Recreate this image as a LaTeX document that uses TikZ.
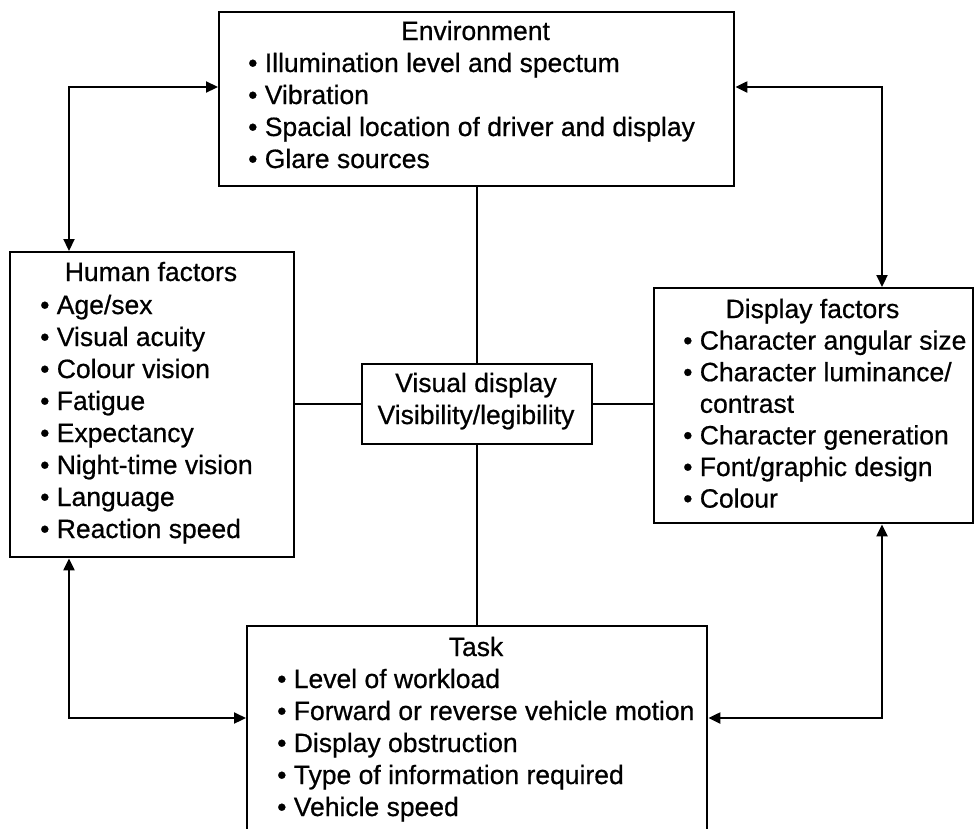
\documentclass[tikz,border=0pt]{standalone}
\usepackage{fontspec}
\setmainfont{Liberation Sans}[FakeBold=0.6]
\usetikzlibrary{arrows.meta}
\begin{document}
\begin{tikzpicture}[x=1pt,y=-1pt,
  box/.style={draw, line width=2.4pt, inner sep=0pt, anchor=north west},
  head/.style={anchor=base, inner sep=0pt, font=\fontsize{26.5}{32}\selectfont},
  item/.style={anchor=base west, inner sep=0pt, font=\fontsize{26.5}{32}\selectfont},
  link/.style={line width=1.6pt},
  twoway/.style={line width=2.2pt, {Triangle[length=12pt,width=11pt]}-{Triangle[length=12pt,width=11pt]}},
]
\useasboundingbox (0,0) rectangle (974,828);

% Environment
\node[box, minimum width=515pt, minimum height=174pt] (env) at (218,11) {};
\node[head] (env-t) at (475.5,40) {Environment};
\foreach \t [count=\i] in {Illumination level and spectum, Vibration,
    Spacial location of driver and display, Glare sources}
  \node[item] (env-\i) at (248, 40+32*\i) {\textbullet\ \t};

% Human factors
\node[box, minimum width=284pt, minimum height=305pt] (hum) at (9,251) {};
\node[head] (hum-t) at (151,281) {Human factors};
\foreach \t [count=\i] in {Age/sex, Visual acuity, Colour vision, Fatigue,
    Expectancy, Night-time vision, Language, Reaction speed}
  \node[item] (hum-\i) at (40, 282+32*\i) {\textbullet\ \t};

% Display factors
\node[box, minimum width=319pt, minimum height=235pt] (disp) at (653,287) {};
\node[head] (disp-t) at (812.5,318) {Display factors};
\foreach \t [count=\i] in {\textbullet\ Character angular size,
    \textbullet\ Character luminance/, \phantom{\textbullet\ }contrast,
    \textbullet\ Character generation, \textbullet\ Font/graphic design,
    \textbullet\ Colour}
  \node[item] (disp-\i) at (683, 318+31.6*\i) {\t};

% Visual display (centre)
\node[box, minimum width=230pt, minimum height=80pt] (ctr) at (361,363) {};
\node[head] (ctr-1) at (476,392) {Visual display};
\node[head] (ctr-2) at (476,424) {Visibility/legibility};

% Task
\node[box, minimum width=460pt, minimum height=220pt] (task) at (246,625) {};
\node[head] (task-t) at (476,656) {Task};
\foreach \t [count=\i] in {Level of workload, Forward or reverse vehicle motion,
    Display obstruction, Type of information required, Vehicle speed}
  \node[item] (task-\i) at (277, 656+32*\i) {\textbullet\ \t};

% plain links to the centre box
\draw[link] (env.south) -- (env.south |- ctr.north);
\draw[link] (ctr.south) -- (ctr.south |- task.north);
\draw[link] (hum.east |- ctr.west) -- (ctr.west);
\draw[link] (ctr.east) -- (ctr.east -| disp.west);

% two-way arrows around the outside
\draw[twoway] ([xshift=60pt]hum.north west) |- ([yshift=-76pt]env.north west);
\draw[twoway] ([yshift=-76pt]env.north east) -| ([xshift=229pt]disp.north west);
\draw[twoway] ([xshift=60pt]hum.south west) |- ([yshift=-93pt]task.north west);
\draw[twoway] ([xshift=229pt]disp.south west) |- ([yshift=-93pt]task.north east);
\end{tikzpicture}
\end{document}
